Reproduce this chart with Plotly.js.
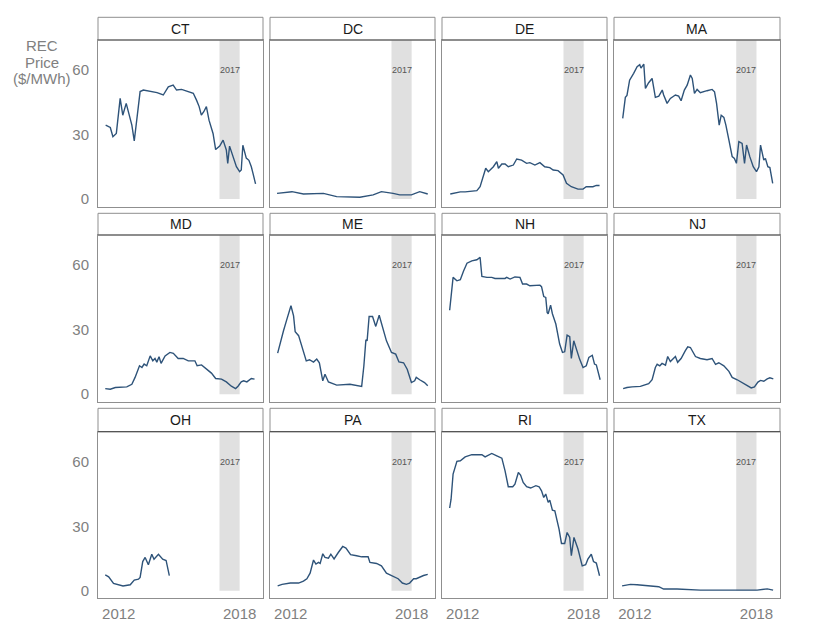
<!DOCTYPE html>
<html>
<head>
<meta charset="utf-8">
<script src="https://cdn.plot.ly/plotly-3.0.1.min.js"></script>
<style>html,body{margin:0;padding:0;background:#fff;}#chart{width:820px;height:627px;}</style>
</head>
<body>
<div id="chart"></div>
<script>
// ---- data (decimal year, REC price $/MWh) ----
const states = ["CT","DC","DE","MA","MD","ME","NH","NJ","OH","PA","RI","TX"];

const ctX = [2011.35,2011.58,2011.71,2011.88,2012.07,2012.2,2012.37,2012.53,2012.65,2012.77,2012.9,2013.06,2013.22,2013.55,2013.9,2014.21,2014.46,2014.7,2014.87,2015.12,2015.7,2015.86,2015.99,2016.1,2016.22,2016.35,2016.48,2016.68,2016.81,2017.01,2017.18,2017.34,2017.41,2017.5,2017.67,2017.84,2018.0,2018.08,2018.16,2018.33,2018.46,2018.58,2018.66,2018.79];
const ctY = [34.4,33.3,29,30.5,46.8,39,44.5,38.3,34.4,27,36.7,50,50.7,50,49.5,48.4,52.2,53,50.7,51,49.2,46,43,39,40.6,43,36.7,30.5,23,24.6,27.4,22.8,16.6,24.6,19.7,15,12.7,13.5,25,19,18,15,12,7];

const dcX = [2011.32,2012.06,2012.63,2013.62,2014.28,2015.43,2016.09,2016.5,2017.08,2017.41,2017.99,2018.4,2018.8];
const dcY = [2.6,3.4,2.3,2.6,1.1,0.8,1.9,3.4,2.6,1.9,1.9,3.4,2.3];

const deX = [2011.38,2011.88,2012.12,2012.7,2012.86,2013.03,2013.14,2013.27,2013.52,2013.69,2013.77,2013.94,2014.1,2014.26,2014.51,2014.68,2014.92,2015.17,2015.33,2015.58,2015.83,2016.07,2016.32,2016.49,2016.73,2016.98,2017.15,2017.39,2017.72,2017.97,2018.13,2018.46,2018.63,2018.79];
const deY = [2.3,3.3,3.3,3.9,5.7,10.4,14.3,12.7,15,17.4,14.3,16.3,16.3,15,15.8,18.6,18.1,16.6,16.9,15.8,16.9,15,14.6,13.5,13.2,11.2,7.3,5.7,4.6,4.6,5.7,5.7,6.3,6.3];

const maX = [2011.4,2011.53,2011.61,2011.74,2011.94,2012.11,2012.24,2012.3,2012.44,2012.52,2012.68,2012.85,2013.01,2013.18,2013.35,2013.42,2013.59,2013.75,2014.0,2014.16,2014.28,2014.44,2014.58,2014.74,2014.83,2014.94,2015.07,2015.23,2015.56,2015.81,2015.93,2016.03,2016.16,2016.26,2016.39,2016.49,2016.64,2016.8,2016.91,2017.01,2017.13,2017.29,2017.41,2017.51,2017.67,2017.84,2018.0,2018.12,2018.2,2018.36,2018.44,2018.56,2018.66,2018.8];
const maY = [37.5,47.3,48.2,55.3,58.5,61.6,62.5,60.9,62.8,51.5,54.1,56.1,47.3,47.9,50.7,48.4,44.5,46.8,48.4,47.9,45.7,50.7,53,57.7,56.1,49.2,51,49.5,50.4,51,49.9,44.5,34.4,39,38,34.4,27.4,19.7,18.9,16.6,26.7,25.9,16.6,25.1,19.7,15,12.7,15,25.1,18.1,18.9,15,14.6,7.3];

const mdX = [2011.33,2011.58,2011.83,2012.4,2012.65,2012.81,2013.03,2013.15,2013.26,2013.39,2013.56,2013.69,2013.8,2013.89,2014.0,2014.1,2014.3,2014.54,2014.71,2014.95,2015.2,2015.45,2015.78,2015.89,2016.11,2016.35,2016.6,2016.81,2017.1,2017.34,2017.59,2017.8,2017.92,2018.08,2018.2,2018.36,2018.58,2018.74];
const mdY = [2.6,2.3,3.1,3.4,4.6,7.8,13.2,12.4,14,13.2,17.8,15.5,16.6,14.9,17.4,14.3,17.8,19.4,19,16.6,16.6,15.5,15.5,13.2,13.6,11.6,9.8,7.3,7,5.7,3.7,2.6,3.7,5.7,6.2,5.7,7.3,7];

const meX = [2011.35,2011.48,2011.64,2011.81,2012.01,2012.14,2012.22,2012.39,2012.55,2012.77,2012.93,2013.13,2013.29,2013.42,2013.59,2013.7,2013.87,2014.28,2014.94,2015.52,2015.63,2015.73,2015.79,2015.89,2016.06,2016.22,2016.39,2016.55,2016.75,2017.0,2017.21,2017.37,2017.6,2017.78,2017.99,2018.15,2018.23,2018.4,2018.64,2018.8];
const meY = [19.1,24,29.5,34.9,41.1,36.4,29,27.2,22.5,15.5,16,14.9,16.3,14.6,6.2,9.3,5.7,4.2,4.6,3.6,13.2,25.3,24.8,36.1,36.1,31.5,36.7,31,24.8,19.4,18.6,15,14.6,11.6,5.4,6.2,7.8,6.7,5.4,3.9];

const nhX = [2011.35,2011.42,2011.52,2011.71,2011.88,2012.04,2012.21,2012.45,2012.7,2012.86,2012.95,2013.2,2013.44,2013.6,2014.1,2014.18,2014.35,2014.59,2014.84,2014.97,2015.17,2015.33,2015.83,2015.91,2016.02,2016.12,2016.19,2016.24,2016.36,2016.45,2016.62,2016.81,2016.95,2017.06,2017.18,2017.31,2017.39,2017.51,2017.64,2017.8,2017.97,2018.13,2018.26,2018.43,2018.54,2018.63,2018.82];
const nhY = [39,45.7,54.3,52.7,53.2,57.3,60.9,62,62.5,63.6,54.7,54.3,54.3,53.8,53.8,54.3,53.5,54.5,54.3,51.2,51.2,50.4,50.7,50,45.4,45,38,37.4,41.4,37.4,32.6,23.3,19.4,19.7,27.4,26.7,16.6,24.8,20.9,16.3,12.4,13.2,17.1,18.1,14,13.6,6.7];

const njX = [2011.42,2011.61,2011.86,2012.27,2012.68,2012.85,2013.01,2013.1,2013.23,2013.34,2013.51,2013.62,2013.75,2013.89,2014.0,2014.11,2014.28,2014.49,2014.61,2014.74,2014.99,2015.23,2015.56,2015.81,2015.98,2016.14,2016.39,2016.64,2016.8,2017.05,2017.29,2017.51,2017.74,2017.9,2018.07,2018.2,2018.36,2018.53,2018.66,2018.83];
const njY = [2.6,3.1,3.4,3.6,4.9,6.7,12.4,13.9,13.2,14.3,13.5,17.5,15.2,16.3,17.5,14.8,16.6,20.2,22,21.7,17.5,16.6,16,16.6,13.9,14.6,13.2,10.6,7.8,6.7,5.4,3.9,2.9,3.4,5.6,6.4,6,7.1,7.6,7.1];

const ohX = [2011.33,2011.5,2011.74,2011.99,2012.21,2012.57,2012.77,2012.98,2013.06,2013.19,2013.31,2013.47,2013.64,2013.75,2013.97,2014.18,2014.35,2014.51];
const ohY = [7.4,6.5,3.4,2.8,2.2,2.8,5,5.4,6.2,13.6,15.5,12.1,17,14.7,17,14.7,14.1,7];

const paX = [2011.35,2011.57,2011.98,2012.39,2012.63,2012.8,2012.96,2013.13,2013.25,2013.38,2013.46,2013.59,2013.7,2013.87,2013.99,2014.15,2014.36,2014.58,2014.74,2014.97,2015.27,2015.52,2015.84,2015.93,2016.26,2016.5,2016.75,2017.0,2017.16,2017.33,2017.54,2017.74,2017.9,2018.1,2018.23,2018.4,2018.59,2018.8];
const paY = [2.3,3,3.6,3.6,4.5,5.6,8.2,14.3,12.4,13.2,12.7,17.2,15.5,15.2,17,14.8,17.8,20.6,19.9,16.8,16.3,15.8,15.8,13.2,12.7,11.6,8.2,7.1,6.7,5.6,3.6,3,3.6,5.6,5.6,6.4,7.1,7.6];

const riX = [2011.35,2011.42,2011.52,2011.71,2011.88,2012.12,2012.45,2012.95,2013.11,2013.44,2013.69,2013.94,2014.1,2014.26,2014.48,2014.59,2014.76,2014.87,2015.0,2015.17,2015.37,2015.63,2015.79,2015.91,2016.02,2016.12,2016.24,2016.32,2016.45,2016.57,2016.78,2016.9,2017.06,2017.18,2017.31,2017.39,2017.52,2017.72,2017.93,2018.1,2018.21,2018.38,2018.49,2018.63,2018.79];
const riY = [38.5,42.6,54.3,60.2,60.5,62.3,63.3,63.3,62.3,63.9,62.8,61.7,55.8,48.4,48.4,49.6,55,53.8,50.4,48.4,47.8,48.9,48.4,46.5,43.4,45,41.1,42.2,37.5,37.2,28.7,22,22,27.1,24.8,16.3,24.8,19.4,11.6,12.1,14.7,17,13.6,12.9,7];

const txX = [2011.37,2011.78,2012.11,2012.93,2013.18,2013.42,2014.08,2015.23,2016.88,2018.03,2018.53,2018.82];
const txY = [2.3,3,2.8,2.3,1.9,0.8,0.8,0.3,0.3,0.3,0.9,0.3];

const seriesX = [ctX,dcX,deX,maX,mdX,meX,nhX,njX,ohX,paX,riX,txX];
const seriesY = [ctY,dcY,deY,maY,mdY,meY,nhY,njY,ohY,paY,riY,txY];

const yTickVals = [0,30,60];
const yTickText = ["0","30","60"];
const xTickVals = [2012,2018];
const xTickText = ["2012","2018"];
const shadeStart = 2017, shadeEnd = 2018;
const shadeLabel = "2017";
const yTitleLines = ["REC","Price","($/MWh)"];

// ---- layout geometry ----
const W = 820, H = 627;
const colL = [98,270,442,614], colR = [263,435,607,780];
const stripTop = [17.3,213.3,408.3];
const rowTop = [40,235,431.7], rowBot = [206.5,401.7,598.3];
const yRange = [-3.5,74], xRange = [2010.97,2019.16];
const lineCol = "#2e5379";
const fontFam = "Liberation Sans, Arial, sans-serif";
const grey = "#808080";
const border = "#8f8f8f";

const data = [], shapes = [], annotations = [];
const layout = {
  width: W, height: H, margin: {l:0,r:0,t:0,b:0},
  paper_bgcolor: "#fff", plot_bgcolor: "#fff",
  showlegend: false, font: {family: fontFam, color: grey}
};

states.forEach((st, i) => {
  const r = Math.floor(i/4), c = i % 4, n = i + 1;
  const xa = n === 1 ? "x" : "x" + n, ya = n === 1 ? "y" : "y" + n;
  const xk = n === 1 ? "xaxis" : "xaxis" + n, yk = n === 1 ? "yaxis" : "yaxis" + n;
  layout[xk] = {
    domain: [colL[c]/W, colR[c]/W], anchor: ya, range: xRange,
    showgrid: false, zeroline: false,
    showline: true, mirror: true, linecolor: border, linewidth: 1,
    tickvals: xTickVals, ticktext: xTickText, showticklabels: r === 2,
    ticks: "outside", ticklen: 2, tickcolor: "rgba(0,0,0,0)",
    tickfont: {size: 15, color: grey, family: fontFam}
  };
  layout[yk] = {
    domain: [1 - rowBot[r]/H, 1 - rowTop[r]/H], anchor: xa, range: yRange,
    showgrid: false, zeroline: false,
    showline: true, mirror: true, linecolor: border, linewidth: 1,
    tickvals: yTickVals, ticktext: yTickText, showticklabels: c === 0,
    ticks: "outside", ticklen: 5, tickcolor: "rgba(0,0,0,0)",
    tickfont: {size: 15, color: grey, family: fontFam}
  };
  // shaded 2017 band
  shapes.push({type: "rect", xref: xa, yref: ya, x0: shadeStart, x1: shadeEnd,
    y0: 0, y1: yRange[1], fillcolor: "#e0e0e0", line: {width: 0}, layer: "below"});
  annotations.push({xref: xa, yref: ya, x: (shadeStart+shadeEnd)/2, y: 60,
    text: shadeLabel, showarrow: false, font: {size: 9, color: "#555", family: fontFam}});
  // strip
  shapes.push({type: "rect", xref: "paper", yref: "paper",
    x0: colL[c]/W, x1: colR[c]/W, y0: 1 - rowTop[r]/H, y1: 1 - stripTop[r]/H,
    fillcolor: "#fff", line: {color: border, width: 1}});
  shapes.push({type: "line", xref: "paper", yref: "paper",
    x0: colL[c]/W, x1: colR[c]/W, y0: 1 - rowTop[r]/H, y1: 1 - rowTop[r]/H,
    line: {color: "#555", width: 1.2}});
  annotations.push({xref: "paper", yref: "paper",
    x: (colL[c]+colR[c])/2/W, y: 1 - (stripTop[r]+rowTop[r])/2/H,
    text: st, showarrow: false, font: {size: 14, color: "#1a1a1a", family: fontFam},
    xanchor: "center", yanchor: "middle"});
  data.push({x: seriesX[i], y: seriesY[i], xaxis: xa, yaxis: ya,
    type: "scatter", mode: "lines", line: {color: lineCol, width: 1.4}, hoverinfo: "skip"});
});

const titleY = [45.5, 62, 78.5];
yTitleLines.forEach((t, k) => {
  annotations.push({xref: "paper", yref: "paper", x: 42/W, y: 1 - titleY[k]/H,
    text: t, showarrow: false, align: "center",
    font: {size: 15, color: grey, family: fontFam}, xanchor: "center", yanchor: "middle"});
});

layout.shapes = shapes;
layout.annotations = annotations;
Plotly.newPlot("chart", data, layout, {displayModeBar: false, staticPlot: true});
</script>
</body>
</html>
